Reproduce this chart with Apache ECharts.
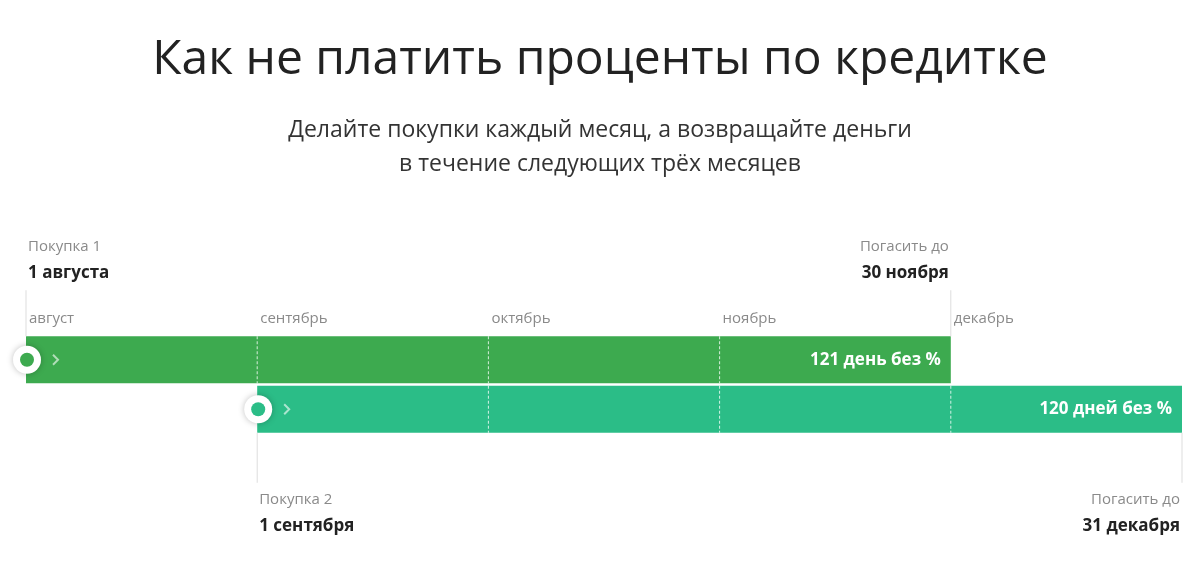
<!DOCTYPE html>
<html><head><meta charset="utf-8">
<script src="https://cdn.jsdelivr.net/npm/echarts@6/dist/echarts.min.js"></script>
<style>html,body{margin:0;padding:0;background:#fff}#c{width:1200px;height:561px}</style>
</head><body><div id="c"></div>
<script>
const months = ['август','сентябрь','октябрь','ноябрь','декабрь'];
const purchases = ['Покупка 1','Покупка 2'];
const purchaseDates = ['1 августа','1 сентября'];
const dueDates = ['30 ноября','31 декабря'];
const barStart = [0, 1];
const barEnd = [4, 5];
const barLabels = ['121 день без %','120 дней без %'];
const colors = ['#3daa4f','#2bbd87'];
const FONT = '"Open Sans", "Noto Sans", sans-serif';

const data = barStart.map((s,i)=>[s, barEnd[i], i]);

const chart = echarts.init(document.getElementById('c'));
chart.setOption({
  animation:false,
  title:{text:'Как не платить проценты по кредитке', left:'center', top:31,
    textStyle:{fontSize:48, fontWeight:'normal', color:'#222', fontFamily:FONT}},
  graphic:[{type:'text', x:600, y:113, style:{
    text:'Делайте покупки каждый месяц, а возвращайте деньги\nв течение следующих трёх месяцев',
    fontSize:23, lineHeight:34, fill:'#333', align:'center', fontFamily:FONT}}],
  grid:{left:26, right:18, top:336, height:99},
  xAxis:{type:'value', min:0, max:5, interval:1, position:'top',
    axisLine:{show:false}, axisTick:{show:false}, splitLine:{show:false},
    axisLabel:{formatter:v=>months[v]||'', align:'left', margin:10, padding:[0,0,0,3],
      color:'#8a8a8a', fontSize:15, fontFamily:FONT}},
  yAxis:{type:'category', data:purchases, inverse:true, show:false},
  series:[{type:'custom', data:data, renderItem:(params, api)=>{
    const i = api.value(2);
    const p0 = api.coord([api.value(0), i]);
    const p1 = api.coord([api.value(1), i]);
    const h = 47, y = p0[1]-h/2-1, cy = y+h/2;
    const ch = [];
    ch.push({type:'rect', shape:{x:p0[0], y:y, width:p1[0]-p0[0], height:h}, style:{fill:colors[i]}});
    for(let m=Math.floor(api.value(0))+1; m<api.value(1); m++){
      const x = api.coord([m,i])[0];
      ch.push({type:'line', shape:{x1:x,y1:y,x2:x,y2:y+h}, style:{stroke:'rgba(255,255,255,0.8)', lineWidth:1, lineDash:[3,2]}});
    }
    const up = i===0;
    const ly1 = up ? y-46 : y+h, ly2 = up ? y : y+h+50;
    ch.push({type:'line', shape:{x1:p0[0],y1:ly1,x2:p0[0],y2:ly2}, style:{stroke:'#ddd', lineWidth:1}});
    ch.push({type:'line', shape:{x1:p1[0],y1:ly1,x2:p1[0],y2:ly2}, style:{stroke:'#ddd', lineWidth:1}});
    const ty1 = up ? 247 : 500, ty2 = up ? 273 : 526;
    ch.push({type:'text', style:{text:purchases[i], x:p0[0]+2, y:ty1, fill:'#8a8a8a', fontSize:15, fontFamily:FONT, verticalAlign:'middle'}});
    ch.push({type:'text', style:{text:purchaseDates[i], x:p0[0]+2, y:ty2, fill:'#222', fontSize:17, fontWeight:'bold', fontFamily:FONT, verticalAlign:'middle'}});
    ch.push({type:'text', style:{text:'Погасить до', x:p1[0]-2, y:ty1, fill:'#8a8a8a', fontSize:15, fontFamily:FONT, align:'right', verticalAlign:'middle'}});
    ch.push({type:'text', style:{text:dueDates[i], x:p1[0]-2, y:ty2, fill:'#222', fontSize:17, fontWeight:'bold', fontFamily:FONT, align:'right', verticalAlign:'middle'}});
    ch.push({type:'circle', shape:{cx:p0[0]+1, cy:cy, r:14}, style:{fill:'#fff', shadowBlur:6, shadowColor:'rgba(0,0,0,0.25)'}});
    ch.push({type:'circle', shape:{cx:p0[0]+1, cy:cy, r:7}, style:{fill:colors[i]}});
    ch.push({type:'polyline', shape:{points:[[p0[0]+27,cy-5],[p0[0]+32,cy],[p0[0]+27,cy+5]]}, style:{stroke:'rgba(255,255,255,0.6)', lineWidth:2, fill:null}});
    ch.push({type:'text', style:{text:barLabels[i], x:p1[0]-10, y:cy, fill:'#fff', fontSize:17, fontWeight:'bold', fontFamily:FONT, align:'right', verticalAlign:'middle'}});
    return {type:'group', children:ch};
  }}]
});
</script></body></html>
